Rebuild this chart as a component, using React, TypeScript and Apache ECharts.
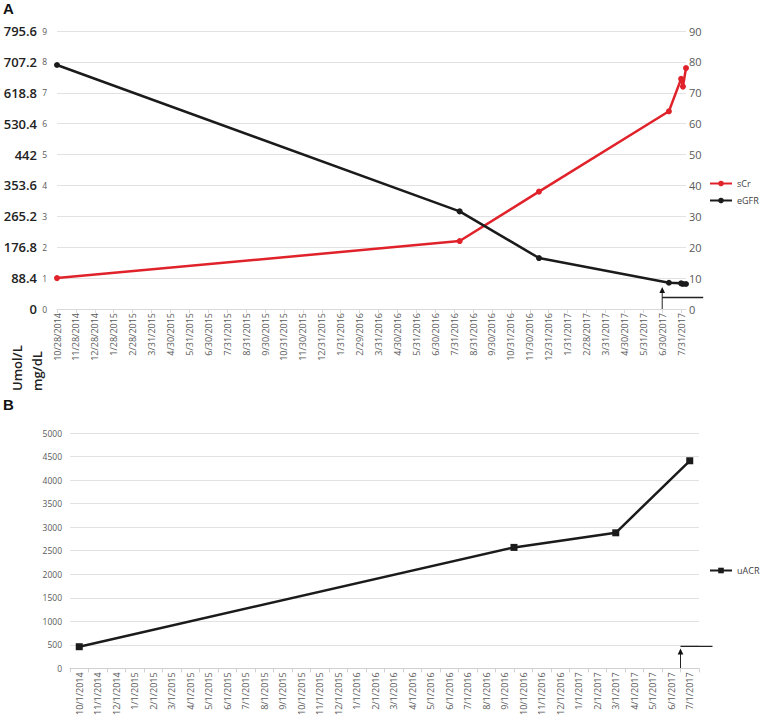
import React, { useEffect, useRef } from "react";
import * as echarts from "echarts";

// ---- Panel A data ----
const tickLabelsA = [
  "10/28/2014", "11/28/2014", "12/28/2014", "1/28/2015", "2/28/2015", "3/31/2015",
  "4/30/2015", "5/31/2015", "6/30/2015", "7/31/2015", "8/31/2015", "9/30/2015",
  "10/31/2015", "11/30/2015", "12/31/2015", "1/31/2016", "2/29/2016", "3/31/2016",
  "4/30/2016", "5/31/2016", "6/30/2016", "7/31/2016", "8/31/2016", "9/30/2016",
  "10/31/2016", "11/30/2016", "12/31/2016", "1/31/2017", "2/28/2017", "3/31/2017",
  "4/30/2017", "5/31/2017", "6/30/2017", "7/31/2017",
];
const measureDatesA = ["2014-10-28", "2016-08-09", "2016-12-15", "2017-07-11", "2017-07-31", "2017-08-03", "2017-08-08"];
const sCrValues = [1.0, 2.2, 3.8, 6.4, 7.45, 7.2, 7.8];
const eGFRValues = [79, 31.6, 16.5, 8.5, 8.3, 8.1, 8.1];
const umolLabels = ["0", "88.4", "176.8", "265.2", "353.6", "442", "530.4", "618.8", "707.2", "795.6"];

// ---- Panel B data ----
const tickLabelsB = [
  "10/1/2014", "11/1/2014", "12/1/2014", "1/1/2015", "2/1/2015", "3/1/2015",
  "4/1/2015", "5/1/2015", "6/1/2015", "7/1/2015", "8/1/2015", "9/1/2015",
  "10/1/2015", "11/1/2015", "12/1/2015", "1/1/2016", "2/1/2016", "3/1/2016",
  "4/1/2016", "5/1/2016", "6/1/2016", "7/1/2016", "8/1/2016", "9/1/2016",
  "10/1/2016", "11/1/2016", "12/1/2016", "1/1/2017", "2/1/2017", "3/1/2017",
  "4/1/2017", "5/1/2017", "6/1/2017", "7/1/2017",
];
const measureDatesB = ["2014-10-01", "2016-09-16", "2017-03-01", "2017-07-01"];
const uACRValues = [460, 2570, 2880, 4410];

const DAY = 86400000;
const parseMDY = (s: string) => {
  const [m, d, y] = s.split("/").map(Number);
  return Date.UTC(y, m - 1, d);
};
const parseISO = (s: string) => {
  const [y, m, d] = s.split("-").map(Number);
  return Date.UTC(y, m - 1, d);
};
const toIndex = (t: number, ticks: number[]) => {
  const n = ticks.length;
  for (let i = 0; i < n - 1; i++) {
    if (t <= ticks[i + 1]) return i + (t - ticks[i]) / (ticks[i + 1] - ticks[i]);
  }
  return n - 1 + (t - ticks[n - 1]) / (31 * DAY);
};

const RED = "#e0232a";
const BLACK = "#1b1b1b";
const GRID = "#e2e2e2";
const LABEL = "#595959";
const FONT = "'Open Sans', 'Noto Sans', sans-serif";

export default function App() {
  const ref = useRef<HTMLDivElement>(null);

  useEffect(() => {
    document.body.style.margin = "0";
    if (!ref.current) return;
    const chart = echarts.init(ref.current, undefined, { renderer: "svg" });

    const ticksA = tickLabelsA.map(parseMDY);
    const ticksB = tickLabelsB.map(parseMDY);
    const xA = measureDatesA.map((d) => toIndex(parseISO(d), ticksA));
    const xB = measureDatesB.map((d) => toIndex(parseISO(d), ticksB));
    const maxA = xA[xA.length - 1];

    const sCrData = xA.map((x, i) => [x, sCrValues[i]]);
    const eGFRData = xA.map((x, i) => [x, eGFRValues[i]]);
    const uACRData = xB.map((x, i) => [x, uACRValues[i]]);

    const option: any = {
      animation: false,
      textStyle: { fontFamily: FONT },
      grid: [
        { left: 57, top: 31, width: 629, height: 278 },
        { left: 70, top: 433, width: 629, height: 236 },
      ],
      xAxis: [
        {
          type: "value",
          gridIndex: 0,
          min: 0,
          max: maxA,
          interval: 1,
          axisLine: { show: true, lineStyle: { color: "#d9d9d9" } },
          axisTick: { show: true, length: 4, lineStyle: { color: "#d9d9d9" } },
          splitLine: { show: false },
          axisLabel: {
            rotate: 90,
            margin: 4,
            fontSize: 9,
            color: LABEL,
            fontFamily: FONT,
            showMaxLabel: false,
            formatter: (v: number) => (Number.isInteger(v) && tickLabelsA[v]) || "",
          },
        },
        {
          type: "category",
          gridIndex: 1,
          data: tickLabelsB,
          boundaryGap: true,
          axisLine: { show: true, lineStyle: { color: "#d0d0d0" } },
          axisTick: { show: true, length: 4, interval: 0, lineStyle: { color: "#d0d0d0" } },
          axisLabel: { rotate: 90, margin: 4, interval: 0, fontSize: 9, color: LABEL, fontFamily: FONT },
        },
        {
          type: "value",
          gridIndex: 1,
          min: -0.5,
          max: 33.5,
          show: false,
        },
      ],
      yAxis: [
        {
          type: "value",
          gridIndex: 0,
          min: 0,
          max: 9,
          interval: 1,
          axisLine: { show: false },
          axisTick: { show: false },
          splitLine: { lineStyle: { color: GRID } },
          axisLabel: { fontSize: 8.5, color: LABEL, margin: 10, fontFamily: FONT },
        },
        {
          type: "value",
          gridIndex: 0,
          position: "left",
          offset: 12,
          min: 0,
          max: 9,
          interval: 1,
          axisLine: { show: false },
          axisTick: { show: false },
          splitLine: { show: false },
          axisLabel: {
            fontSize: 13,
            color: "#222",
            fontWeight: 600,
            margin: 8,
            fontFamily: FONT,
            formatter: (v: number) => umolLabels[v] ?? "",
          },
        },
        {
          type: "value",
          gridIndex: 0,
          position: "right",
          min: 0,
          max: 90,
          interval: 10,
          axisLine: { show: false },
          axisTick: { show: false },
          splitLine: { show: false },
          axisLabel: { fontSize: 11, color: LABEL, margin: 3, fontFamily: FONT },
        },
        {
          type: "value",
          gridIndex: 1,
          min: 0,
          max: 5000,
          interval: 500,
          axisLine: { show: false },
          axisTick: { show: false },
          splitLine: { lineStyle: { color: GRID } },
          axisLabel: { fontSize: 8.5, color: LABEL, margin: 8, fontFamily: FONT, formatter: (v: number) => String(v) },
        },
      ],
      legend: [
        {
          data: ["sCr", "eGFR"],
          orient: "vertical",
          left: 709,
          top: 179,
          padding: 0,
          itemWidth: 22,
          itemHeight: 7,
          itemGap: 8,
          textStyle: { fontSize: 9, color: "#404040", fontFamily: FONT },
        },
        {
          data: ["uACR"],
          orient: "vertical",
          left: 709,
          top: 566,
          padding: 0,
          itemWidth: 22,
          itemHeight: 7,
          textStyle: { fontSize: 9, color: "#404040", fontFamily: FONT },
        },
      ],
      series: [
        {
          name: "sCr",
          type: "line",
          xAxisIndex: 0,
          yAxisIndex: 0,
          data: sCrData,
          symbol: "circle",
          symbolSize: 6,
          lineStyle: { color: RED, width: 2.5 },
          itemStyle: { color: RED },
        },
        {
          name: "eGFR",
          type: "line",
          xAxisIndex: 0,
          yAxisIndex: 2,
          data: eGFRData,
          symbol: "circle",
          symbolSize: 6,
          lineStyle: { color: BLACK, width: 2.5 },
          itemStyle: { color: BLACK },
        },
        {
          name: "uACR",
          type: "line",
          xAxisIndex: 2,
          yAxisIndex: 3,
          data: uACRData,
          symbol: "rect",
          symbolSize: 7,
          lineStyle: { color: BLACK, width: 2.5 },
          itemStyle: { color: BLACK },
        },
      ],
    };
    chart.setOption(option);

    // Annotation arrows anchored through the axes
    const pA = chart.convertToPixel({ xAxisIndex: 0, yAxisIndex: 2 } as any, [32, 0]) as number[];
    const pB = chart.convertToPixel({ xAxisIndex: 2, yAxisIndex: 3 } as any, [32.5, 0]) as number[];
    const arrow = (x: number, y0: number, tipH: number) => [
      { type: "line", shape: { x1: x, y1: y0, x2: x, y2: y0 - tipH + 5 }, style: { stroke: "#222", lineWidth: 1 } },
      {
        type: "polygon",
        shape: { points: [[x, y0 - tipH], [x - 2.8, y0 - tipH + 6], [x + 2.8, y0 - tipH + 6]] },
        style: { fill: "#111" },
      },
    ];
    const vText = (text: string, x: number, y: number) => ({
      type: "text",
      x,
      y,
      rotation: Math.PI / 2,
      style: {
        text,
        font: `600 13px ${FONT}`,
        fill: "#222",
        align: "left",
        verticalAlign: "middle",
        textAlign: "left",
        textVerticalAlign: "middle",
      },
    });
    chart.setOption({
      graphic: [
        { type: "text", left: 3, top: 1, style: { text: "A", font: "bold 15px 'Liberation Sans', Arial, sans-serif", fill: "#111" } },
        { type: "text", left: 3, top: 397, style: { text: "B", font: "bold 15px 'Liberation Sans', Arial, sans-serif", fill: "#111" } },
        vText("Umol/L", 17, 391),
        vText("mg/dL", 37, 391),
        ...arrow(pA[0], pA[1], 22),
        { type: "line", shape: { x1: pA[0], y1: pA[1] - 11.5, x2: pA[0] + 41, y2: pA[1] - 11.5 }, style: { stroke: "#222", lineWidth: 1.3 } },
        ...arrow(pB[0], pB[1], 20),
        { type: "line", shape: { x1: pB[0], y1: pB[1] - 22, x2: pB[0] + 32, y2: pB[1] - 22 }, style: { stroke: "#222", lineWidth: 1.3 } },
      ],
    });

    return () => chart.dispose();
  }, []);

  return <div ref={ref} style={{ width: 760, height: 718 }} />;
}
